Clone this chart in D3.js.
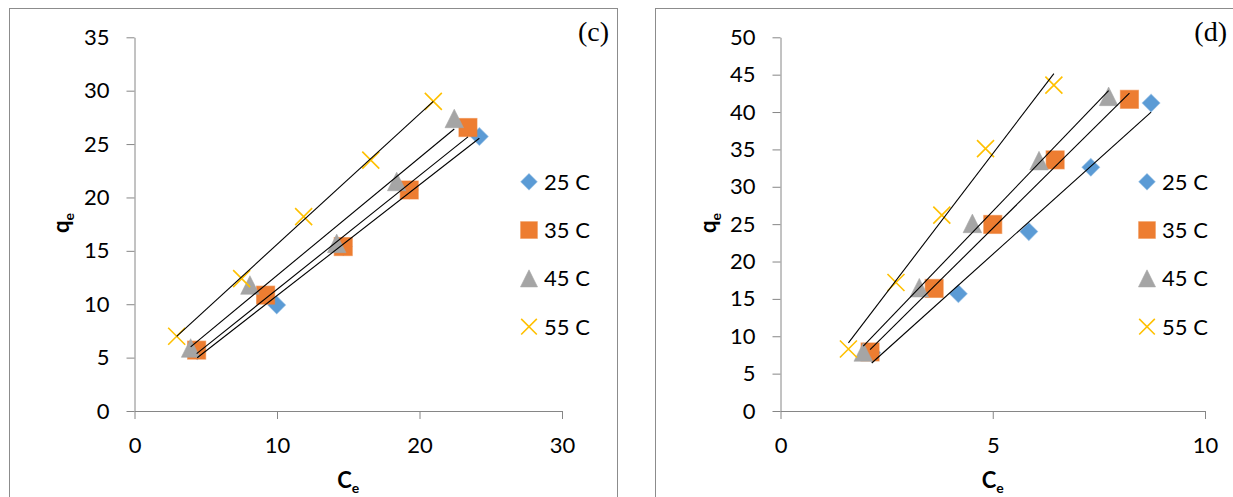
<!DOCTYPE html>
<html>
<head>
<meta charset="utf-8">
<script src="https://cdn.jsdelivr.net/npm/d3@7"></script>
<style>
  body { margin: 0; background: #fff; }
  svg { display: block; }
  text { font-family: Lato, "Open Sans", sans-serif; fill: #000; }
</style>
</head>
<body>
<svg id="chart" width="1233" height="497"></svg>
<script>
// Series labels (temperatures)
const seriesNames = ['25 C', '35 C', '45 C', '55 C'];

// Panel (c) : Ce / qe values
const ceC25 = [4.4, 9.98, 14.65, 19.28, 24.2];
const qeC25 = [5.65, 9.92, 15.4, 20.7, 25.7];
const ceC35 = [4.36, 9.2, 14.65, 19.28, 23.4];
const qeC35 = [5.7, 10.85, 15.4, 20.7, 26.55];
const ceC45 = [3.94, 8.1, 14.19, 18.4, 22.44];
const qeC45 = [5.9, 11.8, 15.7, 21.5, 27.4];
const ceC55 = [2.96, 7.52, 11.87, 16.58, 20.97];
const qeC55 = [7.0, 12.4, 18.2, 23.5, 29.0];

// Panel (d)
const ceD25 = [2.15, 4.19, 5.85, 7.31, 8.73];
const qeD25 = [7.8, 15.7, 24.0, 32.6, 41.2];
const ceD35 = [2.11, 3.62, 5.0, 6.47, 8.22];
const qeD35 = [7.9, 16.4, 24.96, 33.6, 41.7];
const ceD45 = [1.95, 3.27, 4.52, 6.09, 7.73];
const qeD45 = [7.9, 16.5, 25.1, 33.5, 42.1];
const ceD55 = [1.6, 2.72, 3.8, 4.83, 6.44];
const qeD55 = [8.3, 17.2, 26.2, 35.1, 43.6];

// Tick values
const xTicksC = [0, 10, 20, 30];
const yTicksC = [0, 5, 10, 15, 20, 25, 30, 35];
const xTicksD = [0, 5, 10];
const yTicksD = [0, 5, 10, 15, 20, 25, 30, 35, 40, 45, 50];

// Styles
const colors = ['#5B9BD5', '#ED7D31', '#A5A5A5', '#FFC000'];
const shapes = ['diamond', 'square', 'triangle', 'x'];
const axisColor = '#868686';
const frameColor = '#8c8c8c';

const svg = d3.select('#chart');

const panels = [
  {
    tag: '(c)', tagX: 609, frameX: 9.5, frameW: 608,
    left: 134.5, right: 562, top: 37.3, bottom: 411,
    xTicks: xTicksC, yTicks: yTicksC, legendX: 529, qX: 69,
    series: [[ceC25, qeC25], [ceC35, qeC35], [ceC45, qeC45], [ceC55, qeC55]]
  },
  {
    tag: '(d)', tagX: 1227, frameX: 655.5, frameW: 700,
    left: 780.5, right: 1205, top: 37.3, bottom: 411,
    xTicks: xTicksD, yTicks: yTicksD, legendX: 1147, qX: 716,
    series: [[ceD25, qeD25], [ceD35, qeD35], [ceD45, qeD45], [ceD55, qeD55]]
  }
];

// Draw a marker centred at (0,0) of the group
function drawMarker(g, shape, color, s) {
  if (shape === 'diamond') {
    g.append('path')
      .attr('d', d3.symbol(d3.symbolSquare, 150 * s * s)())
      .attr('transform', 'rotate(45)')
      .attr('fill', color)
      .attr('stroke', color).attr('stroke-opacity', 0.55).attr('stroke-width', 1.2);
  } else if (shape === 'square') {
    const h = 9 * s;
    g.append('rect')
      .attr('x', -h).attr('y', -h).attr('width', 2 * h).attr('height', 2 * h)
      .attr('fill', color)
      .attr('stroke', color).attr('stroke-opacity', 0.55).attr('stroke-width', 1.2);
  } else if (shape === 'triangle') {
    const h = 9.3 * s;
    g.append('path')
      .attr('d', `M0,${-h}L${h},${h}L${-h},${h}Z`)
      .attr('fill', color)
      .attr('stroke', color).attr('stroke-opacity', 0.55).attr('stroke-width', 1);
  } else {
    const h = 8.5 * s;
    g.append('path')
      .attr('d', `M${-h},${-h}L${h},${h}M${-h},${h}L${h},${-h}`)
      .attr('fill', 'none')
      .attr('stroke', color).attr('stroke-width', 1.6);
  }
}

// Least squares line over the series range
function trend(xs, ys) {
  const mx = d3.mean(xs), my = d3.mean(ys);
  const sxy = d3.sum(xs, (x, i) => (x - mx) * (ys[i] - my));
  const sxx = d3.sum(xs, x => (x - mx) * (x - mx));
  const b = sxy / sxx, a = my - b * mx;
  const [x0, x1] = d3.extent(xs);
  return [[x0, a + b * x0], [x1, a + b * x1]];
}

panels.forEach(p => {
  // panel frame (bottom edge is below the visible area)
  svg.append('rect')
    .attr('x', p.frameX).attr('y', 8.5)
    .attr('width', p.frameW).attr('height', 600)
    .attr('fill', 'none').attr('stroke', frameColor).attr('stroke-width', 1);

  const x = d3.scaleLinear().domain(d3.extent(p.xTicks)).range([p.left, p.right]);
  const y = d3.scaleLinear().domain(d3.extent(p.yTicks)).range([p.bottom, p.top]);

  const xAxis = svg.append('g')
    .attr('transform', `translate(0,${p.bottom})`)
    .call(d3.axisBottom(x).tickValues(p.xTicks).tickSizeInner(8).tickSizeOuter(0).tickPadding(18));
  const yAxis = svg.append('g')
    .attr('transform', `translate(${p.left},0)`)
    .call(d3.axisLeft(y).tickValues(p.yTicks).tickSizeInner(8).tickSizeOuter(0).tickPadding(17));

  [xAxis, yAxis].forEach(ax => {
    ax.select('.domain').attr('stroke', axisColor);
    ax.selectAll('.tick line').attr('stroke', axisColor);
    ax.selectAll('.tick text').attr('font-size', 22).attr('fill', '#000')
      .style('font-family', 'Lato, sans-serif');
  });

  // markers
  p.series.forEach(([xs, ys], si) => {
    xs.forEach((cx, i) => {
      const g = svg.append('g').attr('transform', `translate(${x(cx)},${y(ys[i])})`);
      drawMarker(g, shapes[si], colors[si], 1);
    });
  });

  // linear trendlines on top
  p.series.forEach(([xs, ys]) => {
    const pts = trend(xs, ys);
    svg.append('line')
      .attr('x1', x(pts[0][0])).attr('y1', y(pts[0][1]))
      .attr('x2', x(pts[1][0])).attr('y2', y(pts[1][1]))
      .attr('stroke', '#000').attr('stroke-width', 1.1);
  });

  // legend
  const legendY = d3.scalePoint().domain(seriesNames).range([181.7, 326.7]);
  seriesNames.forEach((name, si) => {
    const g = svg.append('g').attr('transform', `translate(${p.legendX},${legendY(name)})`);
    drawMarker(g, shapes[si], colors[si], 0.92);
    g.append('text').attr('x', 15).attr('dy', '0.36em')
      .attr('font-size', 22).text(name);
  });

  // axis titles
  const xt = svg.append('text')
    .attr('x', (p.left + p.right) / 2).attr('y', 488)
    .attr('text-anchor', 'middle').attr('font-size', 22).attr('font-weight', 'bold');
  xt.append('tspan').text('C');
  xt.append('tspan').attr('font-size', 14).attr('dy', 5).text('e');

  const yt = svg.append('text')
    .attr('transform', `translate(${p.qX},223) rotate(-90)`)
    .attr('text-anchor', 'middle').attr('font-size', 22).attr('font-weight', 'bold');
  yt.append('tspan').text('q');
  yt.append('tspan').attr('font-size', 14).attr('dy', 5).text('e');

  // panel tag
  svg.append('text')
    .attr('x', p.tagX).attr('y', 41)
    .attr('text-anchor', 'end')
    .attr('font-size', 28)
    .style('font-family', '"Liberation Serif", "DejaVu Serif", serif')
    .text(p.tag);
});
</script>
</body>
</html>
